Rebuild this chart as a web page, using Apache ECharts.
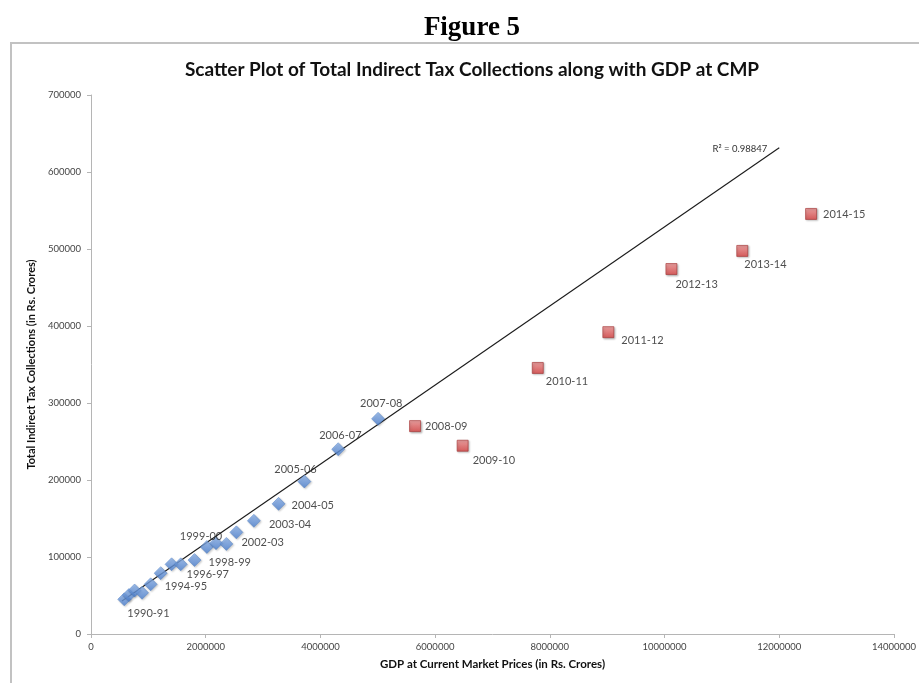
<!DOCTYPE html>
<html>
<head>
<meta charset="utf-8">
<title>Figure 5</title>
<script src="https://cdn.jsdelivr.net/npm/echarts@6/dist/echarts.min.js"></script>
<style>
  html, body { margin: 0; padding: 0; background: #ffffff; }
  #chart { width: 919px; height: 683px; }
</style>
</head>
<body>
<div id="chart"></div>
<script>
// Years 1990-91 to 2007-08 (blue diamonds)
const earlyYears = ['1990-91','1991-92','1992-93','1993-94','1994-95','1995-96','1996-97','1997-98','1998-99',
  '1999-00','2000-01','2001-02','2002-03','2003-04','2004-05','2005-06','2006-07','2007-08'];
const earlyGdp = [580000, 660000, 760000, 890000, 1040000, 1215000, 1405000, 1565000, 1805000,
  2020000, 2180000, 2360000, 2535000, 2840000, 3270000, 3720000, 4310000, 5005000];
const earlyTax = [45000, 50500, 56500, 53500, 64500, 79000, 90500, 90500, 96000,
  113000, 118000, 117000, 132000, 147000, 169000, 198000, 240000, 279500];

// Years 2008-09 to 2014-15 (red squares)
const lateYears = ['2008-09','2009-10','2010-11','2011-12','2012-13','2013-14','2014-15'];
const lateGdp = [5650000, 6480000, 7790000, 9020000, 10120000, 11355000, 12555000];
const lateTax = [270000, 244500, 345500, 392000, 474000, 497500, 545500];

// Linear trend line end points and its fit statistic
const trendGdp = [540000, 12000000];
const trendTax = [42900, 631500];
const trendR2 = '0.98847';

// Axis ticks
const xTicks = { min: 0, max: 14000000, step: 2000000 };
const yTicks = { min: 0, max: 700000, step: 100000 };

// Which years carry a label, and where the label sits relative to its marker
const labelOffsets = {
  '1990-91': [3, 14], '1994-95': [14, 2], '1996-97': [15, 10], '1998-99': [14, 2],
  '1999-00': [-27, -11], '2002-03': [5, 10], '2003-04': [15, 4], '2004-05': [13, 2],
  '2005-06': [-30, -12], '2006-07': [-19, -14], '2007-08': [-18, -15],
  '2008-09': [10, 0], '2009-10': [10, 15], '2010-11': [8, 13], '2011-12': [13, 8],
  '2012-13': [4, 15], '2013-14': [2, 14], '2014-15': [12, 0]
};

const FONT = 'Lato, "Open Sans", sans-serif';

function pointData(years, xs, ys) {
  return years.map(function (yr, i) {
    const off = labelOffsets[yr];
    const item = { name: yr, value: [xs[i], ys[i]] };
    if (off) {
      item.label = {
        show: true, position: 'inside', align: 'left', verticalAlign: 'middle',
        offset: off, formatter: '{b}', color: '#222', fontSize: 11, fontFamily: FONT
      };
    } else {
      item.label = { show: false };
    }
    return item;
  });
}

const chart = echarts.init(document.getElementById('chart'), null, { renderer: 'canvas' });

chart.setOption({
  backgroundColor: '#ffffff',
  animation: false,
  graphic: [
    {
      type: 'rect', silent: true, z: -10,
      shape: { x: 11, y: 43, width: 930, height: 660 },
      style: { fill: '#ffffff', stroke: '#c2c2c2', lineWidth: 2 }
    },
    {
      type: 'text', x: 472, y: 28,
      style: { text: 'Figure 5', font: 'bold 27px "Liberation Serif", "Times New Roman", serif',
        fill: '#000', align: 'center', verticalAlign: 'middle' }
    },
    {
      type: 'text', x: 472, y: 70,
      style: { text: 'Scatter Plot of Total Indirect Tax Collections along with GDP at CMP',
        font: 'bold 19px ' + FONT, fill: '#111', align: 'center', verticalAlign: 'middle' }
    }
  ],
  grid: { left: 91, right: 24, top: 95, bottom: 49, containLabel: false },
  xAxis: {
    type: 'value', min: xTicks.min, max: xTicks.max, interval: xTicks.step,
    name: 'GDP at Current Market Prices (in Rs. Crores)',
    nameLocation: 'middle', nameGap: 24,
    nameTextStyle: { fontFamily: FONT, fontWeight: 'bold', fontSize: 11.5, color: '#111' },
    axisLine: { show: true, lineStyle: { color: '#b5b5b5', width: 1 } },
    axisTick: { show: true, length: 4, lineStyle: { color: '#b5b5b5' } },
    axisLabel: { fontFamily: FONT, fontSize: 9.5, color: '#444', margin: 8, formatter: function (v) { return String(v); } },
    splitLine: { show: false }
  },
  yAxis: {
    type: 'value', min: yTicks.min, max: yTicks.max, interval: yTicks.step,
    name: 'Total Indirect Tax Collections (in Rs. Crores)',
    nameLocation: 'middle', nameGap: 47, nameRotate: 90,
    nameTextStyle: { fontFamily: FONT, fontWeight: 'bold', fontSize: 11, color: '#111' },
    axisLine: { show: true, lineStyle: { color: '#b5b5b5', width: 1 } },
    axisTick: { show: true, length: 4, lineStyle: { color: '#b5b5b5' } },
    axisLabel: { fontFamily: FONT, fontSize: 9.5, color: '#444', margin: 10, formatter: function (v) { return String(v); } },
    splitLine: { show: false }
  },
  series: [
    {
      name: 'Trend', type: 'line', z: 1,
      data: trendGdp.map(function (x, i) {
        const item = { value: [x, trendTax[i]] };
        if (i === trendGdp.length - 1) {
          item.label = {
            show: true, position: 'inside', align: 'right', verticalAlign: 'middle',
            offset: [-12, 1], formatter: 'R\u00B2 = ' + trendR2,
            fontFamily: FONT, fontSize: 9.5, color: '#333'
          };
        }
        return item;
      }),
      symbol: 'circle', symbolSize: 0, showSymbol: true,
      lineStyle: { color: '#1a1a1a', width: 1.1 },
      label: { show: false },
      emphasis: { disabled: true }
    },
    {
      name: '1990-91 to 2007-08', type: 'scatter', z: 3,
      symbol: 'diamond', symbolSize: 13,
      data: pointData(earlyYears, earlyGdp, earlyTax),
      itemStyle: {
        color: new echarts.graphic.LinearGradient(0, 0, 0, 1, [
          { offset: 0, color: '#8fb5ec' }, { offset: 1, color: '#4a7fd0' }
        ]),
        borderColor: '#4f7fc4', borderWidth: 0.6,
        shadowBlur: 2, shadowOffsetX: 1, shadowOffsetY: 1, shadowColor: 'rgba(0,0,0,0.25)'
      },
      emphasis: { disabled: true }
    },
    {
      name: '2008-09 to 2014-15', type: 'scatter', z: 3,
      symbol: 'rect', symbolSize: 11,
      data: pointData(lateYears, lateGdp, lateTax),
      itemStyle: {
        color: new echarts.graphic.LinearGradient(0, 0, 0, 1, [
          { offset: 0, color: '#f39494' }, { offset: 1, color: '#d83f3f' }
        ]),
        borderColor: '#a33434', borderWidth: 0.8,
        shadowBlur: 2, shadowOffsetX: 1, shadowOffsetY: 1, shadowColor: 'rgba(0,0,0,0.3)'
      },
      emphasis: { disabled: true }
    }
  ]
});
</script>
</body>
</html>
